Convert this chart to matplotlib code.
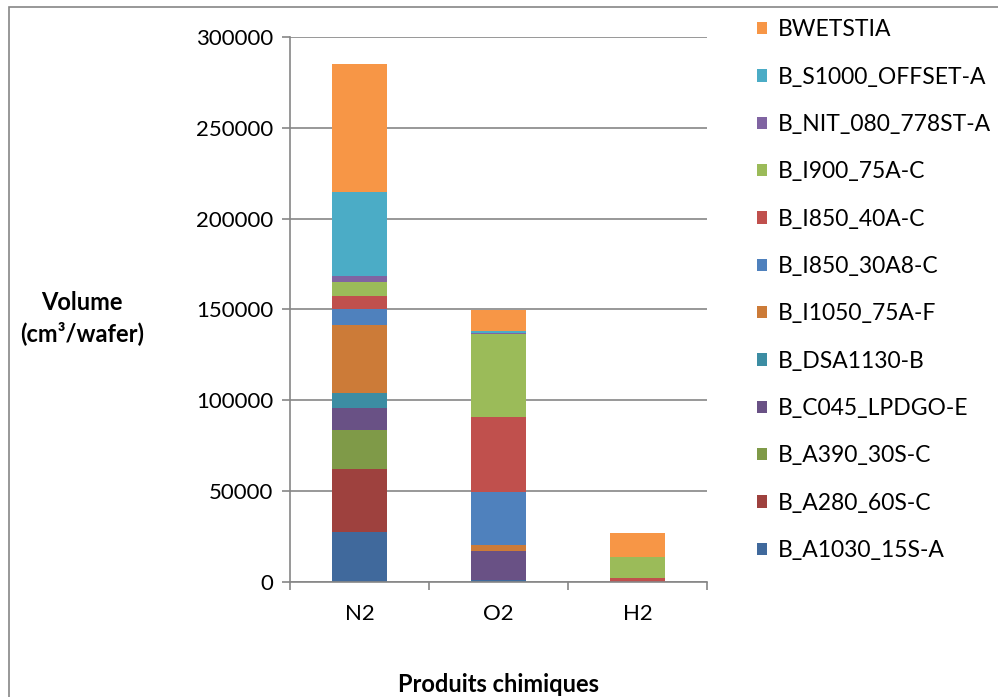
import matplotlib.pyplot as plt
from matplotlib.patches import Rectangle

# categories and series (bottom to top of each stack)
categories = ['N2', 'O2', 'H2']
series = ['B_A1030_15S-A', 'B_A280_60S-C', 'B_A390_30S-C', 'B_C045_LPDGO-E',
          'B_DSA1130-B', 'B_I1050_75A-F', 'B_I850_30A8-C', 'B_I850_40A-C',
          'B_I900_75A-C', 'B_NIT_080_778ST-A', 'B_S1000_OFFSET-A', 'BWETSTIA']
colors = ['#40699C', '#9E413E', '#7F9A48', '#695185', '#3C8DA3', '#CC7B38',
          '#4F81BD', '#C0504D', '#9BBB59', '#8064A2', '#4BACC6', '#F79646']

N2 = [27600, 34400, 21900, 11800, 8400, 37100, 8800, 7500, 7600, 3500, 46100, 70200]
O2 = [1300, 0, 0, 15500, 0, 3500, 29300, 41100, 45600, 500, 1200, 11900]
H2 = [0, 0, 0, 0, 0, 0, 0, 2400, 11300, 0, 0, 13100]

yticks = [0, 50000, 100000, 150000, 200000, 250000, 300000]

plt.rcParams['font.family'] = ['Lato', 'DejaVu Sans']

fig = plt.figure(figsize=(9.98, 6.97), dpi=100)
ax = fig.add_axes([290/998, 1-582/697, (707-290)/998, (582-37)/697])

# outer chart border
fig.patches.append(Rectangle((9/998, -0.1), 1.2, 0.99+0.1, transform=fig.transFigure,
                             fill=False, edgecolor='#868686', linewidth=1.2))

x = list(range(len(categories)))
bottoms = [0, 0, 0]
handles = []
for i, name in enumerate(series):
    vals = [N2[i], O2[i], H2[i]]
    b = ax.bar(x, vals, width=0.4, bottom=bottoms, color=colors[i], label=name, linewidth=0)
    handles.append(b)
    bottoms = [bottoms[k] + vals[k] for k in range(3)]

ax.set_xlim(-0.5, 2.5)
ax.set_ylim(0, 300000)
ax.set_yticks(yticks)
ax.set_yticklabels([str(v) for v in yticks], fontsize=16)
ax.yaxis.grid(True, color='#868686', linewidth=1.2)
ax.set_axisbelow(True)

# boundary ticks as major, labels on minor
ax.set_xticks([-0.5, 0.5, 1.5, 2.5])
ax.set_xticklabels([])
ax.set_xticks(x, minor=True)
ax.set_xticklabels(categories, minor=True, fontsize=16)
ax.tick_params(axis='x', which='minor', length=0, pad=16)
ax.tick_params(axis='x', which='major', length=6, color='#868686', width=1.2)
ax.tick_params(axis='y', length=6, color='#868686', width=1.2, pad=6)

for s in ['top', 'right']:
    ax.spines[s].set_visible(False)
for s in ['left', 'bottom']:
    ax.spines[s].set_color('#868686')
    ax.spines[s].set_linewidth(1.2)

fig.text(82/998, 1-318/697, 'Volume\n(cm³/wafer)', ha='center', va='center',
         fontsize=17, fontweight='bold', linespacing=1.35)
fig.text(499/998, 1-685/697, 'Produits chimiques', ha='center', va='center',
         fontsize=17, fontweight='bold')

leg = fig.legend(handles[::-1], series[::-1], loc='upper left',
                 bbox_to_anchor=(748/998, 1-10/697), frameon=False, fontsize=16.5,
                 handlelength=0.45, handleheight=0.45, handletextpad=0.45,
                 labelspacing=1.15, borderaxespad=0, borderpad=0.4)

plt.savefig('out.png', dpi=100)
